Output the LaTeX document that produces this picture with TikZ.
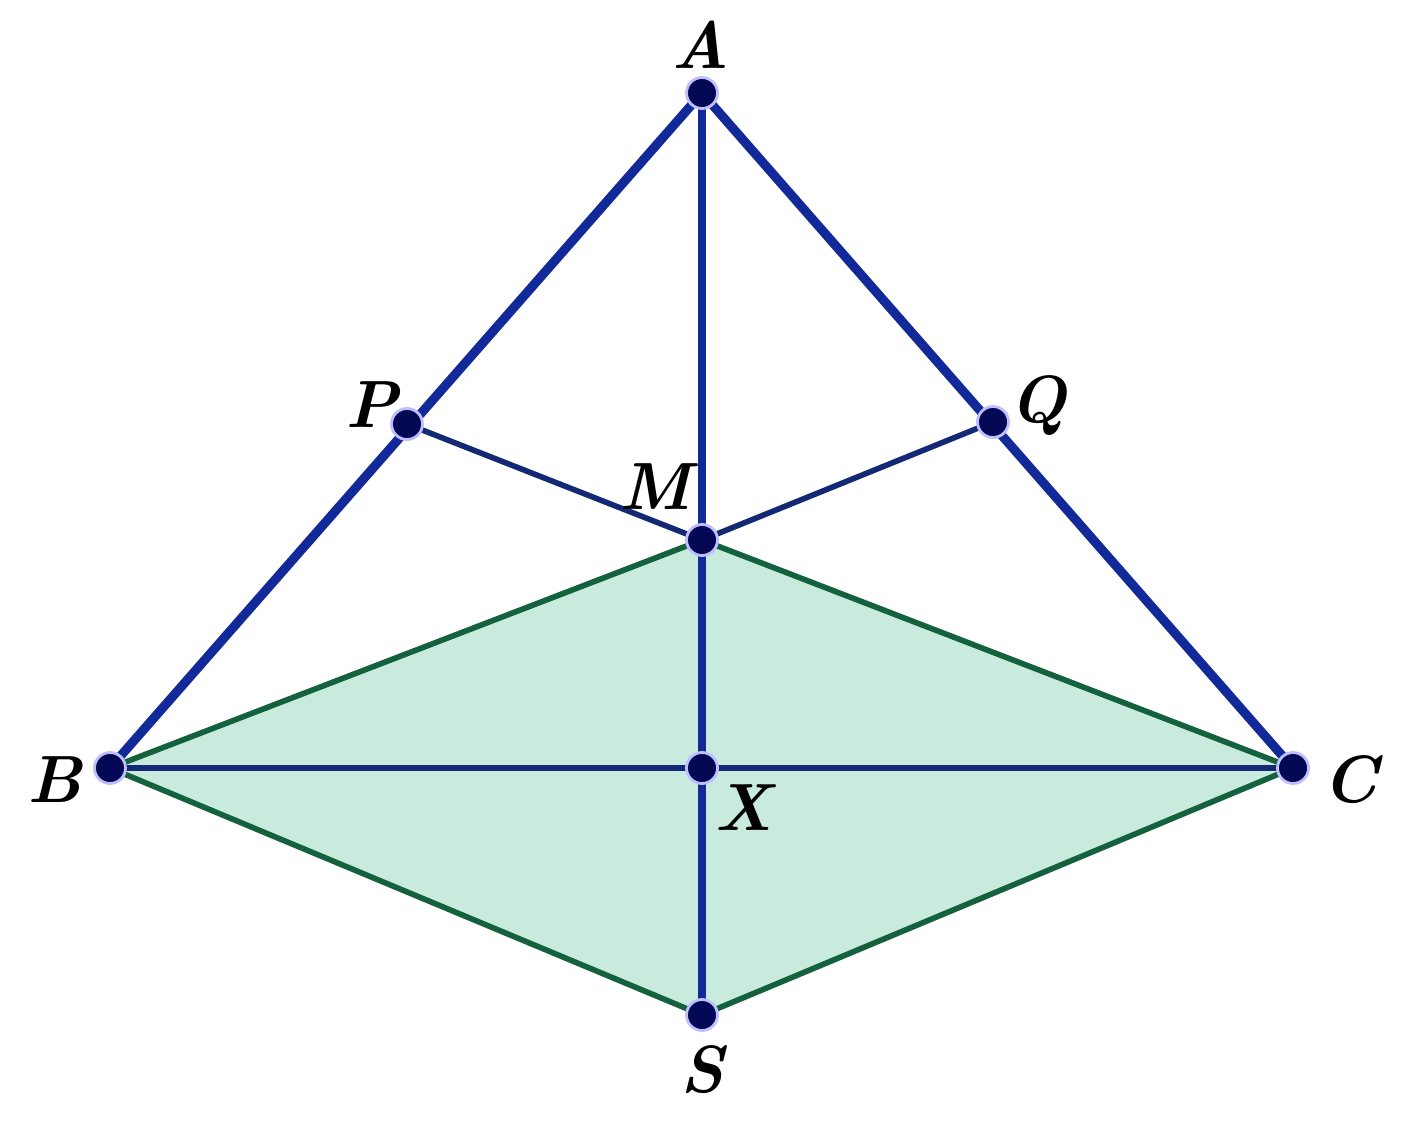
\documentclass[tikz,border=0pt]{standalone}
\usepackage{tikz}
\usetikzlibrary{positioning}
\definecolor{sideblue}{rgb}{0.07,0.16,0.60}
\definecolor{navyline}{rgb}{0.08,0.16,0.46}
\definecolor{kitegreen}{rgb}{0.08,0.38,0.24}
\definecolor{kitefill}{rgb}{0.79,0.92,0.87}
\definecolor{dotfill}{rgb}{0.02,0.03,0.33}
\tikzstyle{pt}=[circle,fill=dotfill,draw=blue!25,line width=0.8pt,inner sep=0pt,minimum size=0.31cm]
\tikzstyle{lbl}=[font=\fontsize{19}{21}\selectfont\bfseries\itshape]
\tikzstyle{side}=[draw=sideblue,line width=2.6pt]
\tikzstyle{thin}=[draw=navyline,line width=1.6pt]
\tikzstyle{kite}=[draw=kitegreen,line width=1.6pt]

\begin{document}
\begin{tikzpicture}[x=0.01cm,y=-0.01cm]
  \useasboundingbox (0,0) rectangle (1403,1121);
  \coordinate (A) at (702,93);
  \coordinate (B) at (110,768);
  \coordinate (C) at (1293,768);
  \coordinate (M) at (702,540);
  \coordinate (X) at (702,768);
  \coordinate (S) at (702,1015);
  \coordinate (P) at (407,424);
  \coordinate (Q) at (993,422);

  \fill[kitefill] (B) -- (M) -- (C) -- (S) -- cycle;
  \path[kite] (B) -- (M) -- (C) -- (S) -- cycle;
  \path[thin] (B) -- (C);
  \path[thin] (P) -- (M) -- (Q);
  \path[draw=sideblue,line width=2pt] (A) -- (S);
  \path[side] (B) -- (A) -- (C);

  \foreach \p in {A,B,C,M,X,S,P,Q}
    \node[pt] (d\p) at (\p) {};

  \node[lbl] (lA) at (700,45) {A};
  \node[lbl] (lP) at (372,405) {P};
  \node[lbl] (lQ) at (1038,405) {Q};
  \node[lbl] (lM) at (655,487) {M};
  \node[lbl] (lB) at (55,780) {B};
  \node[lbl] (lC) at (1350,780) {C};
  \node[lbl] (lX) at (743,808) {X};
  \node[lbl] (lS) at (702,1070) {S};
\end{tikzpicture}
\end{document}
